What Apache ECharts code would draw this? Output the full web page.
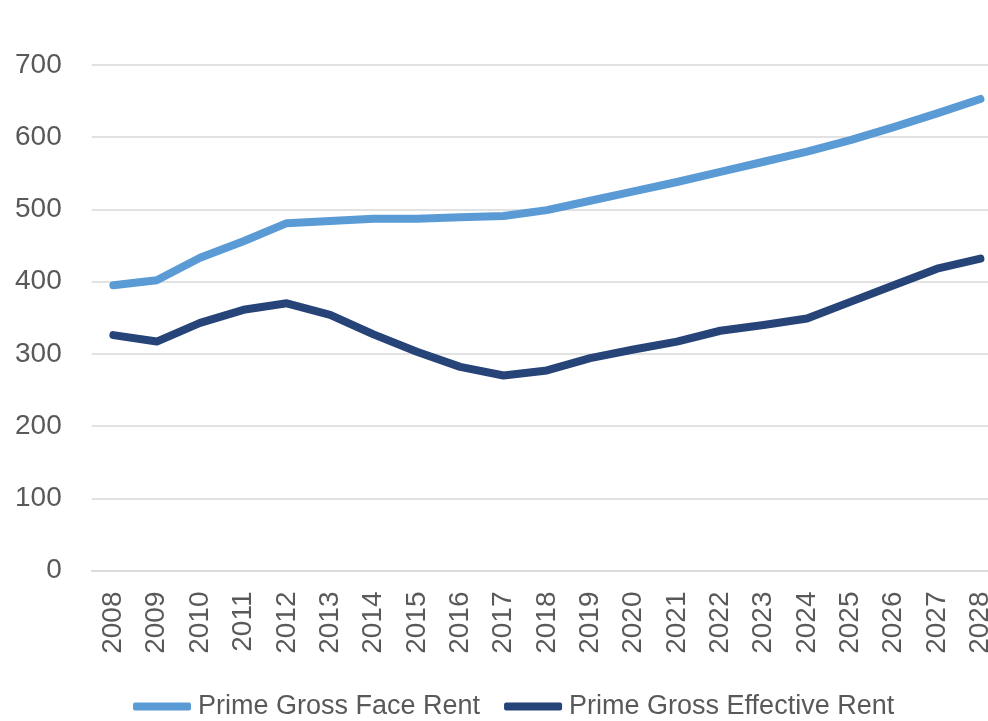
<!DOCTYPE html>
<html>
<head>
<meta charset="utf-8">
<script src="https://cdn.jsdelivr.net/npm/echarts@6/dist/echarts.min.js"></script>
<style>
  html, body { margin: 0; padding: 0; background: #fff; }
  #chart { width: 988px; height: 721px; }
</style>
</head>
<body>
<div id="chart"></div>
<script>
const years = ['2008','2009','2010','2011','2012','2013','2014','2015','2016','2017','2018',
               '2019','2020','2021','2022','2023','2024','2025','2026','2027','2028'];
const faceRent = [395, 402, 433, 456, 481, 484, 487, 487, 489, 491, 499,
                  512, 525, 538, 552, 566, 580, 596, 614, 633, 653];
const effectiveRent = [326, 317, 343, 361, 370, 354, 327, 303, 282, 270, 277,
                       294, 306, 317, 332, 340, 349, 372, 395, 418, 432];
const yTicks = { min: 0, max: 700, interval: 100 };

const textColor = '#595959';
const gridColor = '#d9d9d9';
const font = 'Liberation Sans';

const chart = echarts.init(document.getElementById('chart'));
chart.setOption({
  animation: false,
  // plot area runs slightly past the right edge of the canvas
  grid: {
    left: 91.7, top: 65, width: 910.4, height: 505.5,
    containLabel: false, outerBoundsMode: 'none'
  },
  legend: {
    bottom: -4,
    left: 128,
    itemWidth: 58,
    itemHeight: 8,
    itemGap: 24,
    icon: 'roundRect',
    textStyle: { color: textColor, fontSize: 27, fontFamily: font, padding: [0, 0, 0, 2] },
    data: ['Prime Gross Face Rent', 'Prime Gross Effective Rent']
  },
  xAxis: {
    type: 'category',
    data: years,
    boundaryGap: true,
    axisLine: { lineStyle: { color: gridColor, width: 1.5 } },
    axisTick: { length: 10, lineStyle: { color: gridColor, width: 1.5 } },
    axisLabel: { rotate: 90, margin: 21, color: textColor, fontSize: 28, fontFamily: font, interval: 0 }
  },
  yAxis: {
    type: 'value',
    min: yTicks.min,
    max: yTicks.max,
    interval: yTicks.interval,
    axisLine: { show: false },
    axisTick: { show: false },
    splitLine: { lineStyle: { color: gridColor, width: 1.5 } },
    axisLabel: { margin: 30, color: textColor, fontSize: 28, fontFamily: font }
  },
  series: [
    {
      name: 'Prime Gross Face Rent',
      type: 'line',
      data: faceRent,
      symbol: 'none',
      lineStyle: { color: '#5b9bd5', width: 8, cap: 'round', join: 'round' },
      itemStyle: { color: '#5b9bd5' }
    },
    {
      name: 'Prime Gross Effective Rent',
      type: 'line',
      data: effectiveRent,
      symbol: 'none',
      lineStyle: { color: '#264478', width: 8, cap: 'round', join: 'round' },
      itemStyle: { color: '#264478' }
    }
  ]
});
</script>
</body>
</html>
